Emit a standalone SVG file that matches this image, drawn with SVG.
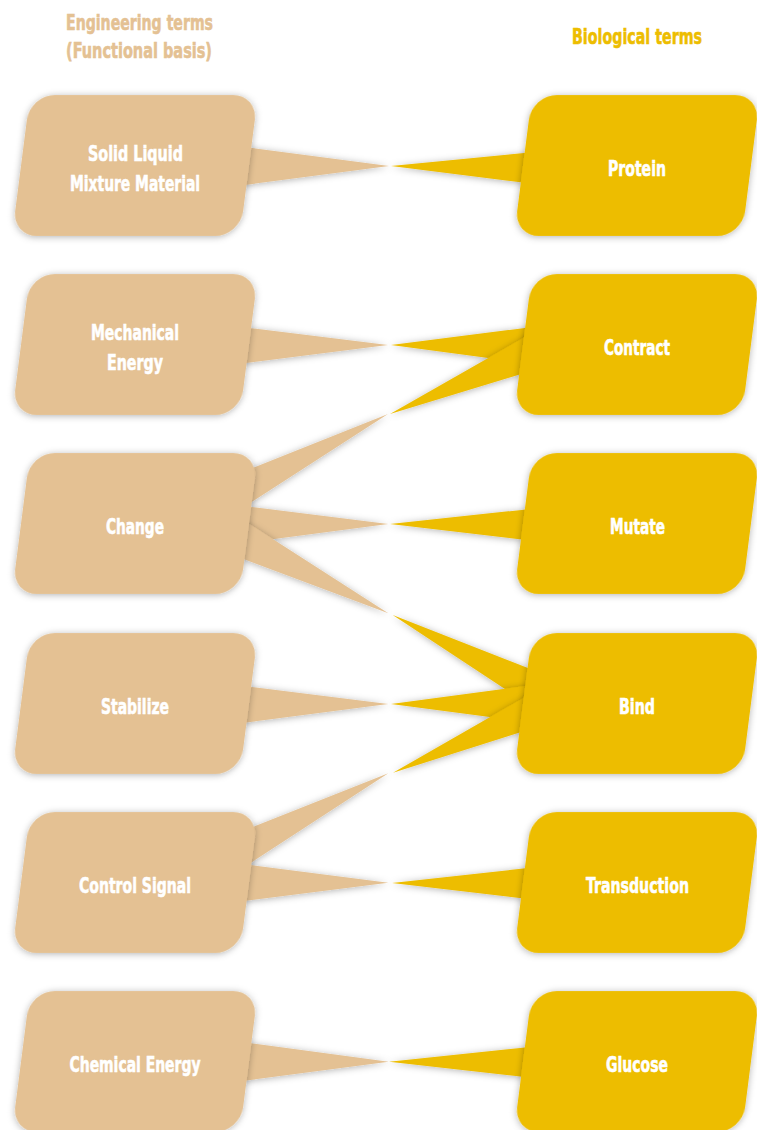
<svg xmlns="http://www.w3.org/2000/svg" width="757" height="1130" viewBox="0 0 757 1130">
  <defs>
    <filter id="shade" x="-20%" y="-50%" width="140%" height="200%">
      <feDropShadow dx="0" dy="1" stdDeviation="3.5" flood-color="#000" flood-opacity="0.3"/>
    </filter>
    <!-- slanted rounded card used by every term -->
    <rect id="card" x="-114" y="-70.5" width="228" height="141" rx="25" ry="25"/>
  </defs>
  <style>
    .eng { fill: #E4C193; }
    .bio { fill: #EDBD00; }
    .sh { filter: url(#shade); }
    .label { font-family: "Liberation Sans Narrow", "DejaVu Sans Condensed", "Roboto", sans-serif; font-weight: bold; font-size: 22px; fill: #FFFFFF; stroke: #FFFFFF; stroke-width: 0.6; text-anchor: middle; }
    .head { font-family: "Liberation Sans Narrow", "DejaVu Sans Condensed", "Roboto", sans-serif; font-weight: bold; font-size: 22px; stroke-width: 0.6; text-anchor: middle; }
  </style>

  <rect width="757" height="1130" fill="#FFFFFF"/>

  <!-- column headings -->
  <g id="headings">
    <text class="head" x="139.5" y="30" fill="#E4C193" stroke="#E4C193" textLength="147" lengthAdjust="spacingAndGlyphs">Engineering terms</text>
    <text class="head" x="139" y="58" fill="#E4C193" stroke="#E4C193" textLength="146" lengthAdjust="spacingAndGlyphs">(Functional basis)</text>
    <text class="head" x="637" y="44" fill="#EDBD00" stroke="#EDBD00" textLength="130" lengthAdjust="spacingAndGlyphs">Biological terms</text>
  </g>

  <!-- tapered links: each half runs from a card to the meeting point -->
  <g id="connectors">
    <polygon class="eng sh" points="389,166 200,141.2 200,190.9"/>
    <polygon class="eng sh" points="388,345 200,321.9 200,368.7"/>
    <polygon class="eng sh" points="388,414 200,488.9 200,535.3"/>
    <polygon class="eng sh" points="388.3,524 200,500.5 200,548.9"/>
    <polygon class="eng sh" points="388.3,613.3 200,492.2 200,542.7"/>
    <polygon class="eng sh" points="388.3,704 200,680.5 200,728.5"/>
    <polygon class="eng sh" points="388.3,773.3 200,847.9 200,895.9"/>
    <polygon class="eng sh" points="388.3,882.7 200,858.6 200,906.6"/>
    <polygon class="eng sh" points="388.7,1061.7 200,1036.4 200,1086.6"/>

    <polygon class="bio sh" points="391,166 575,148 575,189"/>
    <polygon class="bio sh" points="391,345 575,321.6 575,369.7"/>
    <polygon class="bio sh" points="390,414 575,308.5 575,357.6"/>
    <polygon class="bio sh" points="390,524 575,504.2 575,545.8"/>
    <polygon class="bio sh" points="392.7,615 575,686.6 575,735.1"/>
    <polygon class="bio sh" points="391,704 575,679.3 575,728.2"/>
    <polygon class="bio sh" points="393,772.7 575,668.4 575,715.1"/>
    <polygon class="bio sh" points="392,883 575,862.8 575,904.6"/>
    <polygon class="bio sh" points="389,1061.7 575,1042.2 575,1082.7"/>
  </g>

  <!-- engineering terms -->
  <g id="solid-liquid-mixture-material">
    <use href="#card" class="eng sh" transform="translate(135,165.5) skewX(-7.3)"/>
    <text class="label" x="135.5" y="161" textLength="95" lengthAdjust="spacingAndGlyphs">Solid Liquid</text>
    <text class="label" x="135" y="191" textLength="130" lengthAdjust="spacingAndGlyphs">Mixture Material</text>
  </g>
  <g id="mechanical-energy">
    <use href="#card" class="eng sh" transform="translate(135,344.5) skewX(-7.3)"/>
    <text class="label" x="135" y="340" textLength="88" lengthAdjust="spacingAndGlyphs">Mechanical</text>
    <text class="label" x="135" y="370" textLength="56" lengthAdjust="spacingAndGlyphs">Energy</text>
  </g>
  <g id="change">
    <use href="#card" class="eng sh" transform="translate(135,523.5) skewX(-7.3)"/>
    <text class="label" x="135" y="534" textLength="58" lengthAdjust="spacingAndGlyphs">Change</text>
  </g>
  <g id="stabilize">
    <use href="#card" class="eng sh" transform="translate(135,703.5) skewX(-7.3)"/>
    <text class="label" x="135" y="714" textLength="68" lengthAdjust="spacingAndGlyphs">Stabilize</text>
  </g>
  <g id="control-signal">
    <use href="#card" class="eng sh" transform="translate(135,882.5) skewX(-7.3)"/>
    <text class="label" x="135" y="893" textLength="112" lengthAdjust="spacingAndGlyphs">Control Signal</text>
  </g>
  <g id="chemical-energy">
    <use href="#card" class="eng sh" transform="translate(135,1061.5) skewX(-7.3)"/>
    <text class="label" x="135" y="1072" textLength="131" lengthAdjust="spacingAndGlyphs">Chemical Energy</text>
  </g>

  <!-- biological terms -->
  <g id="protein">
    <use href="#card" class="bio sh" transform="translate(637,165.5) skewX(-7.3)"/>
    <text class="label" x="637" y="176" textLength="58" lengthAdjust="spacingAndGlyphs">Protein</text>
  </g>
  <g id="contract">
    <use href="#card" class="bio sh" transform="translate(637,344.5) skewX(-7.3)"/>
    <text class="label" x="637" y="355" textLength="66" lengthAdjust="spacingAndGlyphs">Contract</text>
  </g>
  <g id="mutate">
    <use href="#card" class="bio sh" transform="translate(637,523.5) skewX(-7.3)"/>
    <text class="label" x="637.5" y="534" textLength="55" lengthAdjust="spacingAndGlyphs">Mutate</text>
  </g>
  <g id="bind">
    <use href="#card" class="bio sh" transform="translate(637,703.5) skewX(-7.3)"/>
    <text class="label" x="637" y="714" textLength="36" lengthAdjust="spacingAndGlyphs">Bind</text>
  </g>
  <g id="transduction">
    <use href="#card" class="bio sh" transform="translate(637,882.5) skewX(-7.3)"/>
    <text class="label" x="637.5" y="893" textLength="103" lengthAdjust="spacingAndGlyphs">Transduction</text>
  </g>
  <g id="glucose">
    <use href="#card" class="bio sh" transform="translate(637,1061.5) skewX(-7.3)"/>
    <text class="label" x="637" y="1072" textLength="62" lengthAdjust="spacingAndGlyphs">Glucose</text>
  </g>
</svg>
